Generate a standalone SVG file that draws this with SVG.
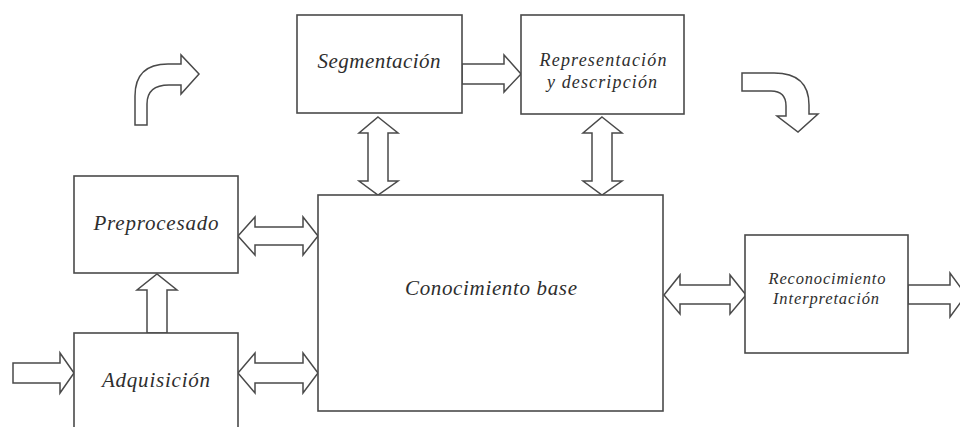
<svg xmlns="http://www.w3.org/2000/svg" width="960" height="427" viewBox="0 0 960 427">
  <style>
    .box { fill: #ffffff; stroke: #4a4a4a; stroke-width: 1.6; }
    .arr { fill: #ffffff; stroke: #4a4a4a; stroke-width: 1.5; stroke-linejoin: miter; }
    .lbl { font-family: "Liberation Serif", "Times New Roman", serif; font-style: italic; fill: #2e2e2e; text-anchor: middle; dominant-baseline: central; }
  </style>
  <rect width="960" height="427" fill="#ffffff"/>

  <!-- connectors: hollow block arrows -->
  <g id="connectors">
    <!-- input into Adquisición -->
    <path class="arr" d="M13,363 L60,363 L60,353 L74,373 L60,393 L60,383 L13,383 Z"/>
    <!-- Adquisición up to Preprocesado -->
    <path class="arr" d="M147,333 L147,290 L137,290 L157,274 L177,290 L167,290 L167,333 Z"/>
    <!-- Preprocesado <-> Conocimiento base -->
    <path class="arr" d="M238,236 L255,217 L255,227 L303,227 L303,217 L318,236 L303,255 L303,245 L255,245 L255,255 Z"/>
    <!-- Adquisición <-> Conocimiento base -->
    <path class="arr" d="M238,373 L255,353 L255,363 L303,363 L303,353 L318,373 L303,393 L303,383 L255,383 L255,393 Z"/>
    <!-- Segmentación <-> Conocimiento base -->
    <path class="arr" d="M378,117 L398,133 L388,133 L388,181 L398,181 L378,195 L359,181 L368,181 L368,133 L359,133 Z"/>
    <!-- Representación <-> Conocimiento base -->
    <path class="arr" d="M602,117 L622,133 L612,133 L612,181 L622,181 L602,195 L583,181 L592,181 L592,133 L583,133 Z"/>
    <!-- Segmentación to Representación -->
    <path class="arr" d="M462,64 L504,64 L504,55 L521,74 L504,92 L504,84 L462,84 Z"/>
    <!-- Conocimiento base <-> Reconocimiento -->
    <path class="arr" d="M664,295 L680,275 L680,285 L730,285 L730,275 L746,295 L730,314 L730,304 L680,304 L680,314 Z"/>
    <!-- output from Reconocimiento -->
    <path class="arr" d="M908,285 L950,285 L950,273 L966,295 L950,317 L950,304 L908,304 Z"/>
    <!-- curved flow arrow, upper left -->
    <path class="arr" d="M135,125 L135,96 Q135,64 168,64 L181,64 L181,55 L199,74 L181,94 L181,85 L169,85 Q147,85 147,104 L147,125 Z"/>
    <!-- curved flow arrow, upper right -->
    <path class="arr" d="M742,73 L774,73 Q809,73 809,105 L809,114 L818,114 L798,132 L777,116 L786,116 L786,106 Q786,91 771,91 L742,91 Z"/>
  </g>

  <g id="segmentacion">
    <rect class="box" x="297" y="15" width="165" height="98"/>
    <text class="lbl" x="379" y="61" font-size="21" textLength="123" lengthAdjust="spacing">Segmentación</text>
  </g>

  <g id="representacion">
    <rect class="box" x="521" y="15" width="163" height="99"/>
    <text class="lbl" x="603" y="60" font-size="18" textLength="127" lengthAdjust="spacing">Representación</text>
    <text class="lbl" x="602" y="82" font-size="18" textLength="110" lengthAdjust="spacing">y descripción</text>
  </g>

  <g id="preprocesado">
    <rect class="box" x="74" y="176" width="164" height="97"/>
    <text class="lbl" x="156" y="223" font-size="21" textLength="125" lengthAdjust="spacing">Preprocesado</text>
  </g>

  <g id="adquisicion">
    <rect class="box" x="74" y="333" width="164" height="110"/>
    <text class="lbl" x="156" y="380" font-size="21" textLength="108" lengthAdjust="spacing">Adquisición</text>
  </g>

  <g id="conocimiento">
    <rect class="box" x="318" y="195" width="345" height="216"/>
    <text class="lbl" x="491" y="288" font-size="21" textLength="172" lengthAdjust="spacing">Conocimiento base</text>
  </g>

  <g id="reconocimiento">
    <rect class="box" x="745" y="235" width="163" height="118"/>
    <text class="lbl" x="827" y="278" font-size="16.5" textLength="117" lengthAdjust="spacing">Reconocimiento</text>
    <text class="lbl" x="826" y="298" font-size="16.5" textLength="106" lengthAdjust="spacing">Interpretación</text>
  </g>
</svg>
